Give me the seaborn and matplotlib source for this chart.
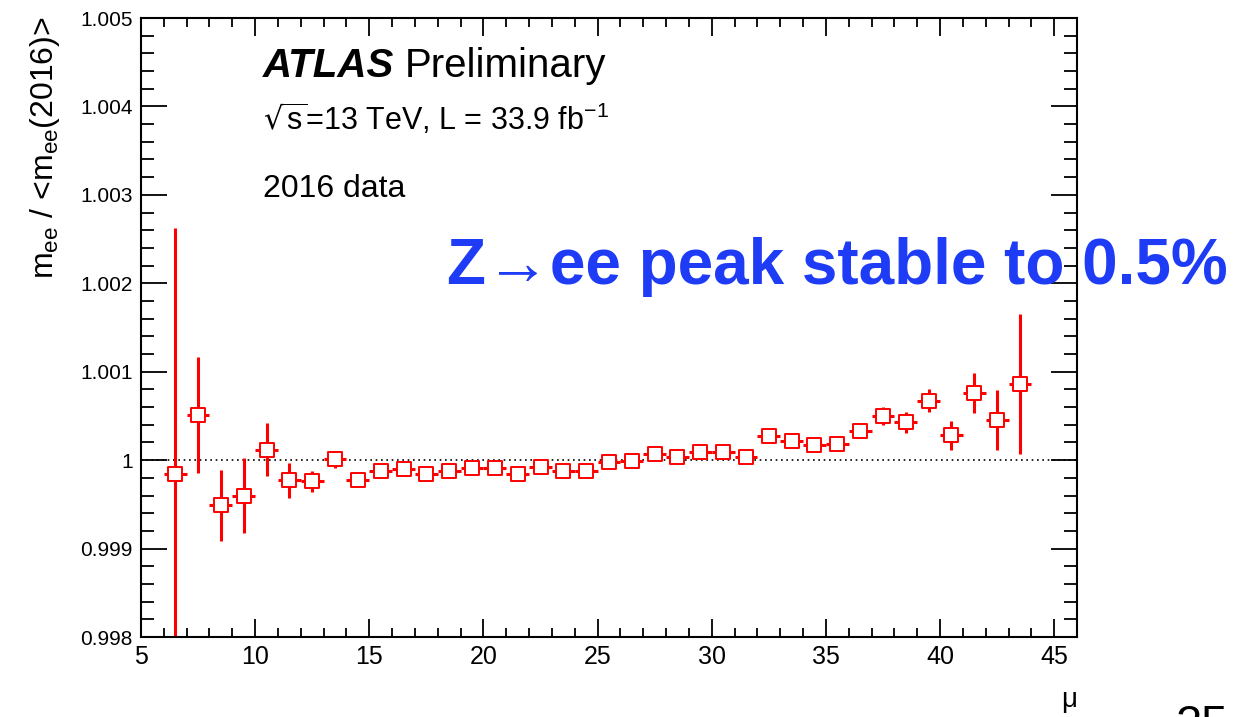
import numpy as np
import pandas as pd
import matplotlib
matplotlib.use("Agg")
import matplotlib.pyplot as plt
from matplotlib.ticker import MultipleLocator, FuncFormatter
import seaborn as sns

# ---- data ----
mu = [6.5, 7.5, 8.5, 9.5, 10.5, 11.5, 12.5, 13.5, 14.5, 15.5, 16.5, 17.5, 18.5,
      19.5, 20.5, 21.5, 22.5, 23.5, 24.5, 25.5, 26.5, 27.5, 28.5, 29.5, 30.5,
      31.5, 32.5, 33.5, 34.5, 35.5, 36.5, 37.5, 38.5, 39.5, 40.5, 41.5, 42.5, 43.5]
ratio = [0.99984, 1.00051, 0.99949, 0.99960, 1.00012, 0.99977, 0.99976, 1.00001,
         0.99978, 0.99988, 0.99990, 0.99984, 0.99988, 0.99991, 0.99991, 0.99984,
         0.99992, 0.99988, 0.99988, 0.99998, 0.99999, 1.00007, 1.00003, 1.00009,
         1.00009, 1.00003, 1.00027, 1.00022, 1.00017, 1.00018, 1.00033, 1.00050,
         1.00043, 1.00067, 1.00028, 1.00076, 1.00045, 1.00086]
err = [0.00279, 0.00066, 0.00040, 0.00042, 0.00030, 0.00020, 0.00012, 0.000094,
       0.00006, 0.00005, 0.00005, 0.00005, 0.00005, 0.00005, 0.00005, 0.00005,
       0.00005, 0.00005, 0.00005, 0.00005, 0.00005, 0.00005, 0.00005, 0.00005,
       0.00005, 0.00005, 0.00006, 0.00006, 0.00006, 0.00006, 0.000085, 0.000106,
       0.00012, 0.00013, 0.00016, 0.00023, 0.00034, 0.00079]
bin_half = 0.5

df = pd.DataFrame({"mu": mu, "ratio": ratio, "err": err})

sns.set_theme(style="ticks")
plt.rcParams["font.family"] = ["Liberation Sans", "DejaVu Sans"]
plt.rcParams["text.color"] = "black"
plt.rcParams["axes.labelcolor"] = "black"
plt.rcParams["xtick.color"] = "black"
plt.rcParams["ytick.color"] = "black"
plt.rcParams["axes.edgecolor"] = "black"

fig = plt.figure(figsize=(12.39, 7.17), dpi=100)
ax = fig.add_axes([141/1239, 1 - 637/717, (1077 - 141)/1239, (637 - 18)/717])

ax.axhline(1.0, color="black", lw=1.2, ls=(0, (1, 2.2)), zorder=1)

ax.errorbar(df["mu"], df["ratio"], yerr=df["err"], xerr=bin_half, fmt="none",
            ecolor="#ff0000", elinewidth=2.2, capsize=0, zorder=2)
sns.scatterplot(data=df, x="mu", y="ratio", marker="s", s=105,
                facecolor="white", edgecolor="#ff0000", linewidth=1.4,
                ax=ax, zorder=3, legend=False)

ax.set_xlim(5, 46)
ax.set_ylim(0.998, 1.005)
ax.xaxis.set_major_locator(MultipleLocator(5))
ax.xaxis.set_minor_locator(MultipleLocator(1))
ax.yaxis.set_major_locator(MultipleLocator(0.001))
ax.yaxis.set_minor_locator(MultipleLocator(0.0002))
ax.yaxis.set_major_formatter(FuncFormatter(
    lambda v, p: f"{v:.3f}".rstrip("0").rstrip(".")))

ax.tick_params(axis="both", which="both", direction="in", top=True, right=True,
               color="black", labelcolor="black", width=1.3)
ax.tick_params(axis="x", which="major", length=13, labelsize=18, pad=6)
ax.tick_params(axis="x", which="minor", length=6.5)
ax.tick_params(axis="y", which="major", length=19, labelsize=15, pad=6)
ax.tick_params(axis="y", which="minor", length=9.5)
for sp in ax.spines.values():
    sp.set_linewidth(1.5)
    sp.set_color("black")
ax.set_xlabel("")
ax.set_ylabel("")

# axis titles
fig.text(45/1239, 1 - 16/717, r"m$_{\mathregular{ee}}$ / <m$_{\mathregular{ee}}$(2016)>",
         rotation=90, ha="center", va="top", fontsize=23)
fig.text(1077/1239, 1 - 707/717, "μ", ha="right", va="baseline", fontsize=20)


def px(x, y):
    return x/1239, 1 - y/717


# ATLAS label
fig.text(*px(263, 77), "ATLAS", fontsize=29, fontweight="bold",
         fontstyle="italic", ha="left", va="baseline")
fig.text(*px(405, 77), "Preliminary", fontsize=29, ha="left", va="baseline")
fig.text(*px(263, 130), r"$\sqrt{\mathregular{s}}$=13 TeV, L = 33.9 fb$^{\mathregular{-1}}$",
         fontsize=22, ha="left", va="baseline")
fig.text(*px(263, 197), "2016 data", fontsize=23, ha="left", va="baseline")

fig.text(*px(447, 284), "Z→ee peak stable to 0.5%", fontsize=46,
         fontweight="bold", color="#1e3cf5", ha="left", va="baseline",
         family=["Liberation Sans", "DejaVu Sans"])

fig.text(*px(1176, 704), "25", fontsize=34, ha="left", va="top")

fig.savefig("out.png", dpi=100)
